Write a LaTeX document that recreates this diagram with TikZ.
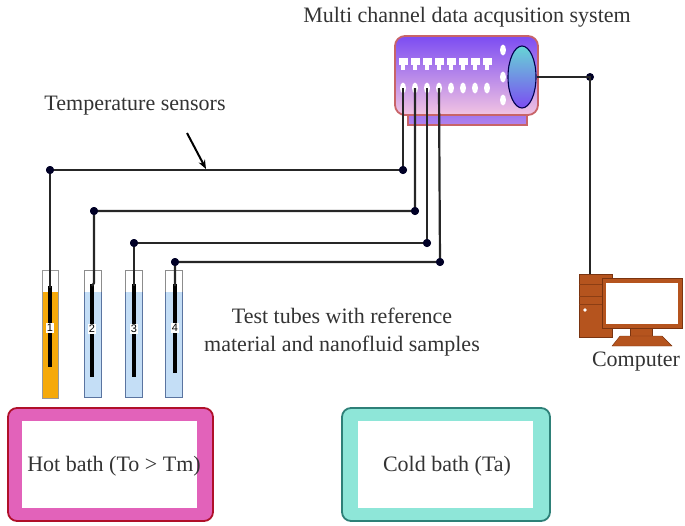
\documentclass[tikz,border=0pt]{standalone}
\usepackage{fontspec}
\setmainfont{Liberation Serif}
\setsansfont{Liberation Sans}
\usetikzlibrary{arrows.meta,shapes.geometric}
\definecolor{daqtop}{HTML}{7C4CF2}
\definecolor{daqbot}{HTML}{F2C4E2}
\definecolor{daqrim}{HTML}{C86468}
\definecolor{hotrim}{HTML}{E262BA}
\definecolor{hotedge}{HTML}{B0102A}
\definecolor{coldrim}{HTML}{8EE6D8}
\definecolor{coldedge}{HTML}{2E8078}
\definecolor{pcfill}{HTML}{B5541E}
\definecolor{pcedge}{HTML}{7A3410}
\definecolor{oil}{HTML}{F5A90A}
\definecolor{fluid}{HTML}{C4DEF6}
\definecolor{glass}{HTML}{5A74A0}
\tikzset{
  wire/.style={line width=2.2pt, black!85},
  joint/.style={circle, fill=black!85!blue, inner sep=0pt, minimum size=8pt},
  caption/.style={font=\fontsize{22}{26}\selectfont, text=black!80, align=center},
  tube/.style={draw=glass, line width=0.9pt},
  rod/.style={line width=4pt, black},
  tag/.style={fill=white, inner sep=0.8pt, font=\sffamily\fontsize{11}{12}\selectfont},
  port/.style={fill=white, draw=none, ellipse, minimum width=6pt, minimum height=11pt, inner sep=0pt},
  bath/.style={rounded corners=9pt, line width=1.8pt},
}
\begin{document}
\begin{tikzpicture}[x=1pt,y=-1pt]
\useasboundingbox (0,0) rectangle (685,525);

% ---------- titles ----------
\node[caption] (daqlabel) at (467,17) {Multi channel data acqusition system};
\node[caption] (sensorlabel) at (135,106) {Temperature sensors};
\node[caption] (tubelabel) at (342,332) {Test tubes with reference\\[2pt]material and nanofluid samples};
\node[caption] (pclabel) at (636,362) {Computer};

% ---------- acquisition unit ----------
\draw[draw=daqrim, line width=1.4pt, top color=daqtop!80, bottom color=daqtop!55!daqbot]
  (408,108) rectangle (527,125);
\draw[draw=daqrim, line width=1.8pt, rounded corners=10pt, top color=daqtop, bottom color=daqbot]
  (395,36) rectangle (538,115);
\node[draw=black!70!blue, line width=1.1pt, ellipse, minimum width=28pt, minimum height=62pt,
      inner sep=0pt, top color=cyan!45!teal!60, bottom color=daqtop] (dial) at (522,77) {};
\foreach \i in {0,...,7}{
  \fill[white] (403+12*\i-4.5,58) rectangle (403+12*\i+4.5,65);
  \fill[white] (403+12*\i-2,65) rectangle (403+12*\i+2,70);
  \node[port] (p\i) at (403+12*\i,88) {};
}
\foreach \y in {50,77,100}{
  \node[port] at (503,\y) {};
}

% ---------- computer ----------
\coordinate (pctop) at (590,274);
\draw[pcedge, line width=0.8pt, fill=pcfill] (579,274) rectangle (612,337);
\draw[pcedge!70!pcfill, line width=0.8pt] (579,284) -- (612,284) (579,296) -- (612,296) (579,304) -- (612,304);
\fill[white] (585,310) circle (1.8pt);
\draw[pcedge, line width=0.8pt, fill=pcfill] (602,278) rectangle (682,328);
\fill[white] (606,283) rectangle (678,324);
\draw[pcedge, fill=pcfill] (630,328) rectangle (652,336);
\draw[pcedge, fill=pcfill] (620,336) -- (662,336) -- (672,346) -- (612,346) -- cycle;

% ---------- baths ----------
\draw[bath, draw=hotedge, fill=hotrim] (8,408) rectangle (213,521);
\fill[white] (22,421) rectangle (197,508);
\node[caption] (hot) at (114,466) {Hot bath (To > Tm)};
\draw[bath, draw=coldedge, fill=coldrim] (342,408) rectangle (550,521);
\fill[white] (358,421) rectangle (533,508);
\node[caption] (cold) at (447,466) {Cold bath (Ta)};

% ---------- test tubes ----------
\fill[oil] (42,292) rectangle (58,398);
\draw[tube, draw=black!40] (42,270) -- (42,398) -- (58,398) -- (58,270) -- cycle;
\foreach \x/\n in {93/2,134/3,174/4}{
  \fill[fluid] (\x-8.5,292) rectangle (\x+8.5,397);
  \draw[tube] (\x-8.5,292) -- (\x-8.5,397) -- (\x+8.5,397) -- (\x+8.5,292);
  \draw[black!45, line width=0.8pt] (\x-8.5,292) -- (\x-8.5,270) -- (\x+8.5,270) -- (\x+8.5,292);
}
\draw[rod] (50,286) -- (50,367);
\draw[rod] (92,284) -- (92,377);
\draw[rod] (134,284) -- (134,377);
\draw[rod] (175,284) -- (175,373);
\node[tag] (t1) at (50,328) {1};
\node[tag] (t2) at (92,329) {2};
\node[tag] (t3) at (134,329) {3};
\node[tag] (t4) at (175,328) {4};

% ---------- sensor wiring ----------
\node[joint] (a1) at (403,170) {};
\node[joint] (b1) at (50,170) {};
\node[joint] (a2) at (415,211) {};
\node[joint] (b2) at (94,211) {};
\node[joint] (a3) at (427,243) {};
\node[joint] (b3) at (134,243) {};
\node[joint] (a4) at (440,262) {};
\node[joint] (b4) at (175,262) {};
\coordinate (e1) at (50,288);
\coordinate (e2) at (92,286);
\coordinate (e3) at (134,286);
\coordinate (e4) at (175,286);

\draw[wire] (p0.center) -- (a1.center) -- (b1.center) -- (e1);
\draw[wire] (p1.center) -- (a2.center) -- (b2.center) -- (94,283) -- (e2);
\draw[wire] (p2.center) -- (a3.center) -- (b3.center) -- (e3);
\draw[wire] (p3.center) -- (a4.center) -- (b4.center) -- (e4);
\foreach \n in {a1,b1,a2,b2,a3,b3,a4,b4}{\node[joint] at (\n) {};}

% ---------- link to computer ----------
\node[joint] (c) at (590,77) {};
\draw[wire, line width=1.6pt] (dial.east) -- (c.center) -- (pctop);

% ---------- pointer ----------
\coordinate (tip) at (206,169);
\draw[line width=2pt, -{Stealth[length=9pt,width=7pt]}] (187,133) -- (tip);
\end{tikzpicture}
\end{document}
